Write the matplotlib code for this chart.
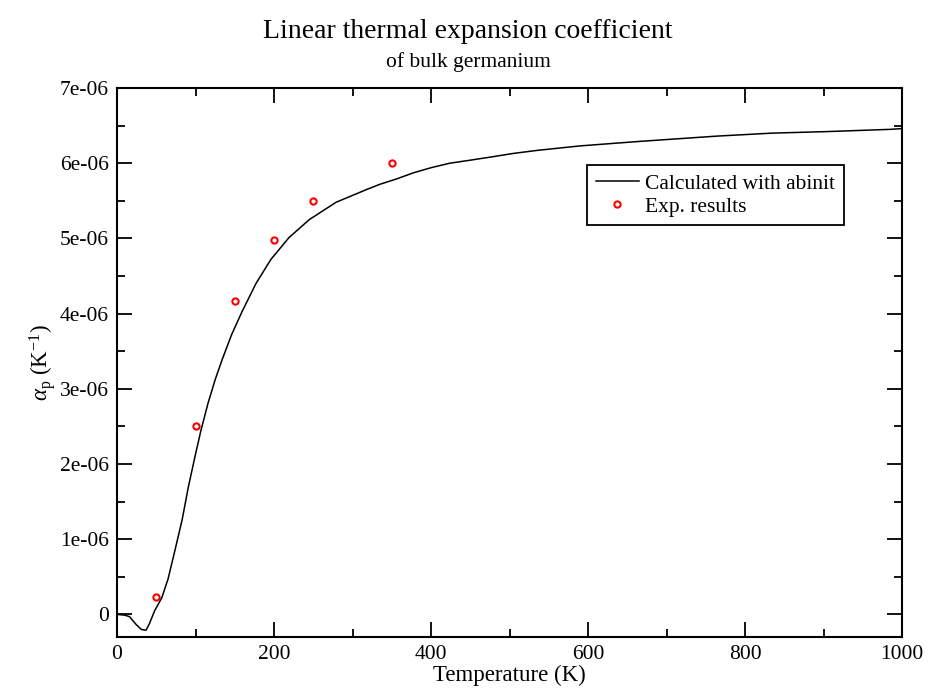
import matplotlib.pyplot as plt
from matplotlib.ticker import MultipleLocator

# abinit curve
temp_calc = [0, 10, 16, 24, 31, 37, 41, 48, 57, 65, 74, 83, 91, 100, 107, 116, 125, 134,
             146, 159, 177, 196, 219, 245, 279, 318, 335, 356, 377, 400, 424, 450, 475,
             505, 535, 590, 666, 764, 835, 904, 985, 1000]
alpha_calc = [0.0, -0.01, -0.03, -0.13, -0.20, -0.21, -0.13, 0.05, 0.22, 0.47, 0.86, 1.26,
              1.70, 2.13, 2.45, 2.81, 3.12, 3.39, 3.72, 4.02, 4.40, 4.72, 5.01, 5.25, 5.48,
              5.65, 5.72, 5.79, 5.87, 5.94, 6.00, 6.04, 6.08, 6.13, 6.17, 6.23, 6.29, 6.36,
              6.40, 6.42, 6.45, 6.46]

# experimental points
temp_exp = [50, 100, 150, 200, 250, 350]
alpha_exp = [0.23, 2.50, 4.17, 4.98, 5.50, 6.00]

scale = 1e-6
y_ticks = [0, 1e-6, 2e-6, 3e-6, 4e-6, 5e-6, 6e-6, 7e-6]
y_labels = ["0", "1e-06", "2e-06", "3e-06", "4e-06", "5e-06", "6e-06", "7e-06"]

plt.rcParams['font.family'] = ['Liberation Serif', 'DejaVu Serif']
plt.rcParams['mathtext.fontset'] = 'custom'
plt.rcParams['mathtext.rm'] = 'Liberation Serif'
plt.rcParams['mathtext.it'] = 'Liberation Serif:italic'

fig = plt.figure(figsize=(9.36, 6.89), dpi=100)
ax = fig.add_axes([0.125, 0.0755, 0.8387, 0.7968])

ax.plot(temp_calc, [a * scale for a in alpha_calc], color="black", lw=1.1,
        label="Calculated with abinit")
ax.plot(temp_exp, [a * scale for a in alpha_exp], ls="none", marker="o", ms=4.5,
        mfc="white", mec="red", mew=1.5, label="Exp. results")

ax.set_xlim(0, 1000)
ax.set_ylim(-3e-7, 7e-6)
ax.xaxis.set_major_locator(MultipleLocator(200))
ax.xaxis.set_minor_locator(MultipleLocator(100))
ax.set_yticks(y_ticks)
ax.set_yticklabels(y_labels)
ax.yaxis.set_minor_locator(MultipleLocator(5e-7))
ax.tick_params(which="both", direction="in", top=True, right=True, width=1.3,
               labelsize=15.5, pad=6)
ax.tick_params(which="major", length=11)
ax.tick_params(which="minor", length=5.5)
for sp in ax.spines.values():
    sp.set_linewidth(1.5)

ax.set_xlabel("Temperature (K)", fontsize=16.5, labelpad=0)
ax.set_ylabel(r"$\alpha_{\mathrm{p}}$ (K$^{-1}$)", fontsize=16.5, labelpad=1)

fig.text(0.5, 0.955, "Linear thermal expansion coefficient", ha="center", va="center", fontsize=20)
fig.text(0.5, 0.91, "of bulk germanium", ha="center", va="center", fontsize=15.5)

leg = ax.legend(loc="upper left", bbox_to_anchor=(0.599, 0.86), fontsize=15.5, fancybox=False,
                framealpha=1, edgecolor="black", borderaxespad=0, handlelength=2.0,
                labelspacing=0.15, borderpad=0.4, handletextpad=0.3)
leg.get_frame().set_linewidth(1.3)

fig.savefig("out.png", dpi=100)
